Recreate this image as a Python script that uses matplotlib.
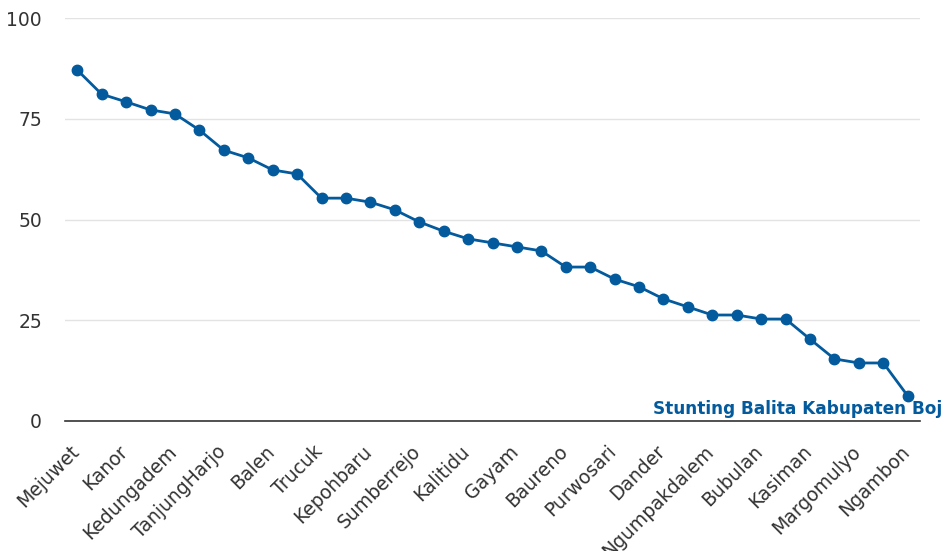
import matplotlib
matplotlib.use("Agg")
import matplotlib.pyplot as plt
from matplotlib.transforms import ScaledTranslation

categories = ["Mejuwet", "Sugihwaras", "Kanor", "Kapas", "Kedungadem", "Padangan",
              "TanjungHarjo", "Temayang", "Balen", "Ngraho", "Trucuk", "Malo",
              "Kepohbaru", "Gondang", "Sumberrejo", "Sukosewu", "Kalitidu", "Ngasem",
              "Gayam", "Sekar", "Baureno", "Tambakrejo", "Purwosari", "Kedewan",
              "Dander", "Dolokgede", "Ngumpakdalem", "Sumbertlaseh", "Bubulan",
              "Pungpungan", "Kasiman", "Kalianyar", "Margomulyo", "Bojonegoro", "Ngambon"]
values = [87.1, 81.1, 79.2, 77.2, 76.2, 72.2, 67.2, 65.3, 62.3, 61.3,
          55.3, 55.3, 54.3, 52.4, 49.4, 47.1, 45.2, 44.2, 43.2, 42.2,
          38.2, 38.2, 35.2, 33.3, 30.3, 28.3, 26.3, 26.3, 25.3, 25.3,
          20.3, 15.4, 14.4, 14.4, 6.2]
series_name = "Stunting Balita Kabupaten Bojonegoro"
yticks = [0, 25, 50, 75, 100]

W, H = 942, 551
fig = plt.figure(figsize=(W / 100, H / 100), dpi=100)
ax = fig.add_axes([65 / W, 1 - 421 / H, (920 - 65) / W, (421 - 18) / H])

blue = "#035a9c"
x = list(range(len(categories)))
ax.plot(x, values, color=blue, lw=2.0, marker="o", ms=7.5, zorder=3, clip_on=False)

ax.set_xlim(-0.5, len(categories) - 0.5)
ax.set_ylim(0, 100)
ax.set_yticks(yticks)
ax.set_yticklabels([str(v) for v in yticks], fontsize=13.5, color="#333333",
                   family=["DejaVu Sans"])
ax.yaxis.grid(True, color="#e3e3e3", lw=1)
ax.set_axisbelow(True)
ax.tick_params(axis="y", length=0, pad=16.5)
ax.tick_params(axis="x", length=0, pad=15)

ax.set_xticks(x[::2])
ax.set_xticklabels(categories[::2], rotation=45, ha="right", rotation_mode="anchor",
                   fontsize=13.5, color="#333333", family=["DejaVu Sans"])
off = ScaledTranslation(-8 / 100, 0, fig.dpi_scale_trans)
for lbl in ax.get_xticklabels():
    lbl.set_transform(lbl.get_transform() + off)

for s in ["top", "right", "left"]:
    ax.spines[s].set_visible(False)
ax.spines["bottom"].set_color("#333333")
ax.spines["bottom"].set_linewidth(1.2)

fig.text(653 / W, 1 - 414 / H, series_name, color=blue, fontsize=12.2, fontweight="bold",
         va="baseline", ha="left", family=["DejaVu Sans"])

fig.savefig("out.png", dpi=100)
